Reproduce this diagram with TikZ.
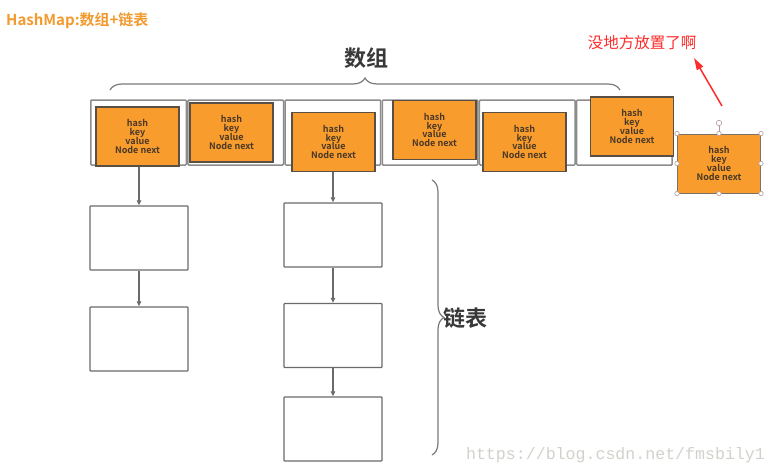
\documentclass[tikz,border=0pt]{standalone}
\usepackage{fontspec}
\setmainfont{Noto Sans CJK SC}[BoldFont={Noto Sans CJK SC Bold}]
\newfontfamily\wmfont{Liberation Mono}
\usetikzlibrary{arrows.meta,decorations.pathreplacing}
\definecolor{orangefill}{HTML}{F89C2E}
\definecolor{orangetitle}{HTML}{F39A2E}
\definecolor{boxedge}{HTML}{5A4F45}
\definecolor{boxtext}{HTML}{4A3826}
\definecolor{cellgray}{HTML}{8C8C8C}
\definecolor{listgray}{HTML}{6A6A6A}
\definecolor{bracegray}{HTML}{7A7A7A}
\definecolor{handlecol}{HTML}{B59A9A}
\definecolor{noteRed}{HTML}{FF2A2A}
\definecolor{wmgray}{HTML}{D2D2CC}
\newcommand\entryfont{\bfseries\fontsize{9}{8.8}\selectfont\setlength{\lineskiplimit}{-20pt}\setlength{\lineskip}{0pt}}
\tikzset{
  cell/.style={draw=cellgray, line width=1.5pt, fill=white, rounded corners=1pt},
  entry/.style={draw=boxedge, line width=1.2pt, fill=orangefill, inner sep=0pt,
    minimum width=83pt, minimum height=59pt, align=center, text=boxtext,
    font=\entryfont},
  listbox/.style={draw=listgray, line width=1.3pt, fill=white, rounded corners=0.8pt,
    minimum width=98pt, minimum height=64pt, inner sep=0pt},
  arr/.style={draw=listgray, line width=1.2pt, -{Triangle[length=5pt,width=4.5pt]}},
  bracestyle/.style={draw=bracegray, line width=1.2pt, decorate,
    decoration={brace, amplitude=12pt}},
  handle/.style={circle, draw=handlecol, fill=white, line width=0.6pt,
    inner sep=0pt, minimum size=4.4pt},
  redarr/.style={draw=noteRed, line width=1.5pt, -{Triangle[length=12pt,width=7pt]}}
}
\begin{document}
\begin{tikzpicture}[x=1pt,y=-1pt]
\useasboundingbox (0,0) rectangle (777,475);
\fill[white] (0,0) rectangle (777,475);

% title
\node[anchor=west, text=orangetitle, font=\bfseries\fontsize{15}{18}\selectfont, inner sep=0pt] (title) at (6,21) {HashMap:数组+链表};

% 数组 label and brace
\node[text=black!78, font=\bfseries\fontsize{22}{26}\selectfont, inner sep=0pt] (arrlabel) at (366,58) {数组};
\coordinate (bl) at (110,90);
\coordinate (br) at (620,90);
\draw[bracestyle] (bl) -- (br);

% array cells
\foreach \i in {0,...,5} {
  \draw[cell] ({90+97.17*\i+0.8},100) rectangle ({90+97.17*(\i+1)-0.8},165);
}

% entries
\node[entry] (o1) at (137.5,136.5) {hash\\key\\value\\Node next};
\node[entry] (o2) at (231.5,132.5) {hash\\key\\value\\Node next};
\node[entry] (o3) at (333.5,142) {hash\\key\\value\\Node next};
\node[entry] (o4) at (434.5,130) {hash\\key\\value\\Node next};
\node[entry] (o5) at (524.5,142) {hash\\key\\value\\Node next};
\node[entry] (o6) at (632,126.5) {hash\\key\\value\\Node next};
\node[entry, draw=boxedge!80, line width=1pt] (o7) at (719,163.5) {hash\\key\\value\\Node next};

% selection handles on o7
\node[handle, minimum size=5.5pt] (rot) at (719,123) {};
\draw[draw=handlecol, line width=0.7pt] (rot) -- (o7.north);
\foreach \a in {north west,north,north east,east,south east,south,south west,west} {
  \node[handle] at (o7.\a) {};
}

% linked lists
\node[listbox] (l1) at (139,238) {};
\node[listbox] (l2) at (139,339) {};
\node[listbox] (l3) at (333,235) {};
\node[listbox] (l4) at (333,335.5) {};
\node[listbox] (l5) at (333,429) {};

\draw[arr] (o1.south -| l1.north) -- (l1.north);
\draw[arr] (l1) -- (l2);
\draw[arr] (o3.south -| l3.north) -- (l3.north);
\draw[arr] (l3) -- (l4);
\draw[arr] (l4) -- (l5);

% 链表 brace and label
\coordinate (rt) at (432,180);
\coordinate (rb) at (432,455);
\draw[bracestyle] (rt) -- (rb);
\node[anchor=west, text=black!78, font=\bfseries\fontsize{22}{26}\selectfont, inner sep=0pt] (listlabel) at (443,318) {链表};

% red note
\node[text=noteRed, font=\fontsize{15.5}{18}\selectfont, inner sep=0pt] (note) at (642,43) {没地方放置了啊};
\coordinate (nt) at (722,106);
\coordinate (nh) at (694,58);
\draw[redarr] (nt) -- (nh);

% watermark
\node[text=wmgray, font=\wmfont\fontsize{16.6}{18}\selectfont, inner sep=0pt] (wm) at (615.5,455) {https://blog.csdn.net/fmsbily1};
\end{tikzpicture}
\end{document}
